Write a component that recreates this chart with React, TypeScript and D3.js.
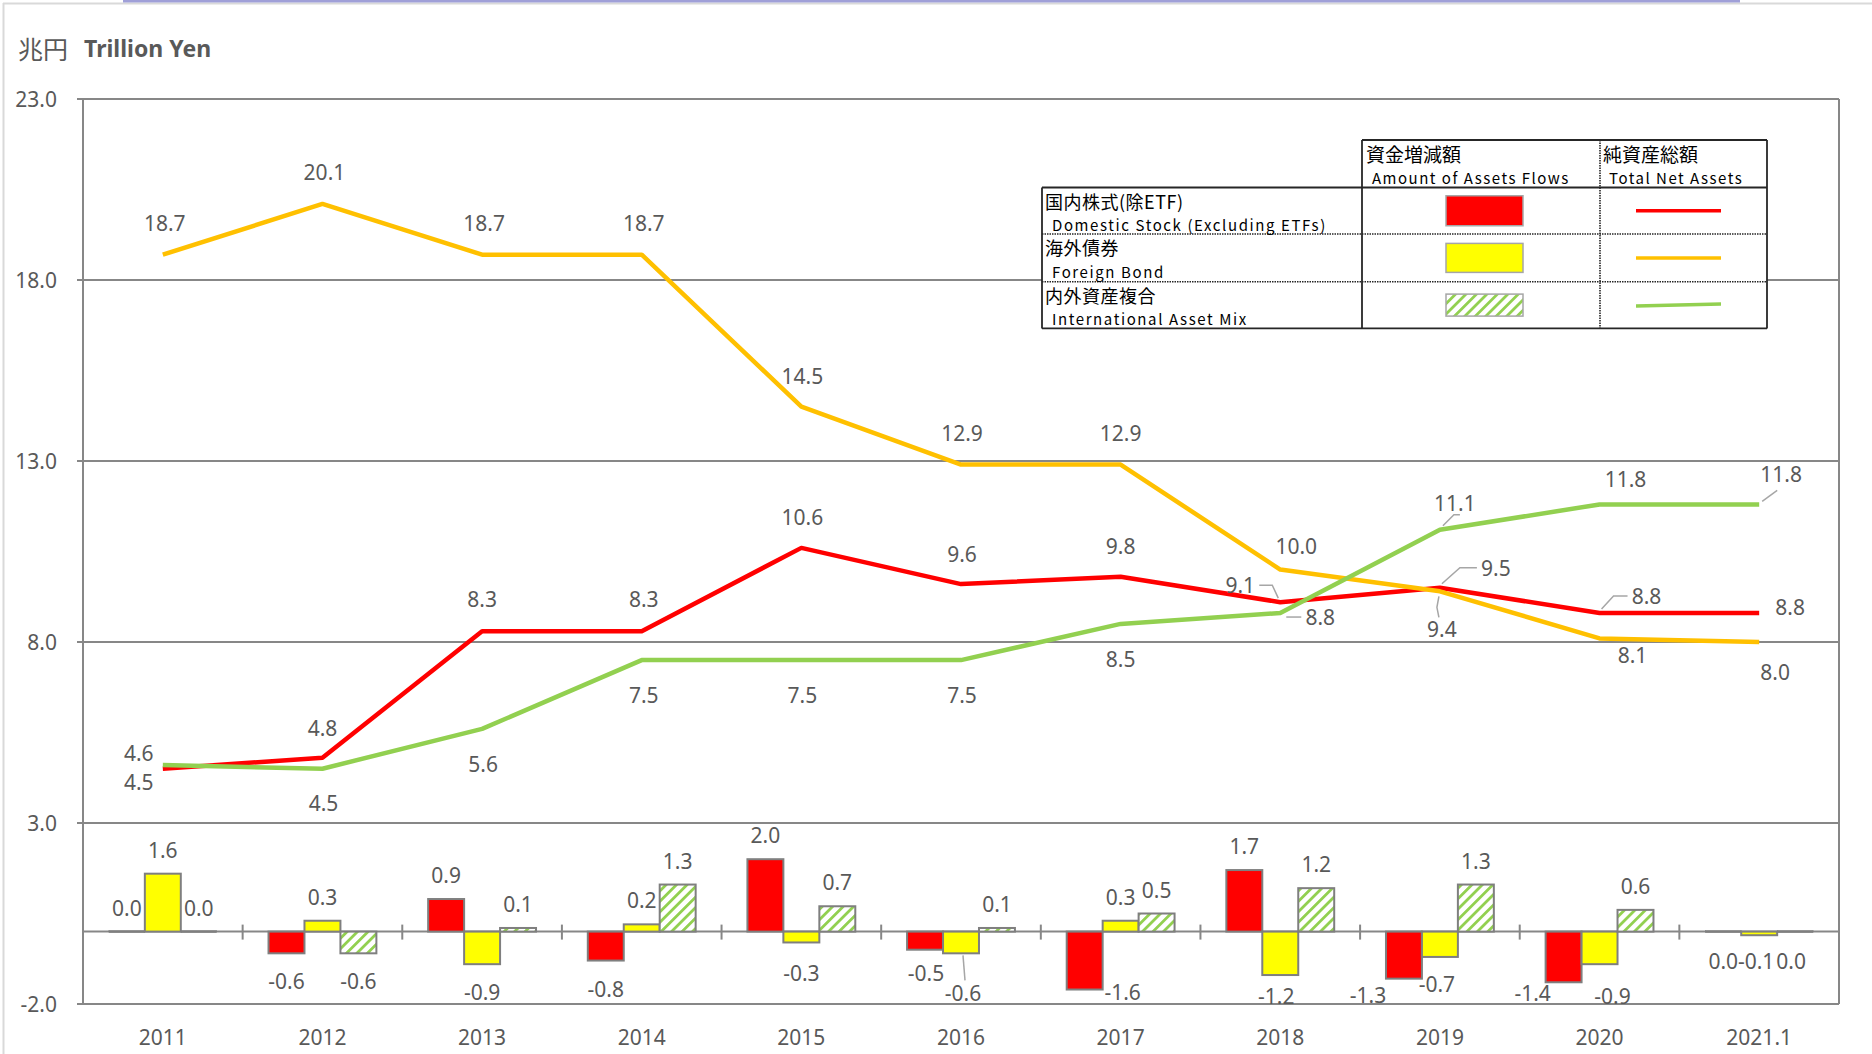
import * as d3 from "d3";
import { useEffect, useRef } from "react";

// categories (fiscal years)
const categories = ["2011", "2012", "2013", "2014", "2015", "2016", "2017", "2018", "2019", "2020", "2021.1"];

// total net assets, trillion yen
const stockNet = [4.5, 4.8, 8.3, 8.3, 10.6, 9.6, 9.8, 9.1, 9.5, 8.8, 8.8];
const bondNet = [18.7, 20.1, 18.7, 18.7, 14.5, 12.9, 12.9, 10.0, 9.4, 8.1, 8.0];
const mixNet = [4.6, 4.5, 5.6, 7.5, 7.5, 7.5, 8.5, 8.8, 11.1, 11.8, 11.8];

// amount of assets flows, trillion yen
const stockFlow = [0.0, -0.6, 0.9, -0.8, 2.0, -0.5, -1.6, 1.7, -1.3, -1.4, 0.0];
const bondFlow = [1.6, 0.3, -0.9, 0.2, -0.3, -0.6, 0.3, -1.2, -0.7, -0.9, -0.1];
const mixFlow = [0.0, -0.6, 0.1, 1.3, 0.7, 0.1, 0.5, 1.2, 1.3, 0.6, 0.0];

const yTicks = [-2, 3, 8, 13, 18, 23];

const legendRows = [
  { jp: "国内株式(除ETF)", en: "Domestic Stock (Excluding ETFs)", key: "stock" },
  { jp: "海外債券", en: "Foreign Bond", key: "bond" },
  { jp: "内外資産複合", en: "International Asset Mix", key: "mix" },
];

// label placement (pixels relative to the data point)
const netLabelOffsets: Record<string, [number, number][]> = {
  stock: [[-24, 13], [0, -30], [0, -32], [2, -32], [1, -31], [1, -30], [0, -31], [-40, -17], [56, -20], [47, -17], [31, -6]],
  bond: [[2, -32], [2, -32], [2, -32], [2, -32], [1, -31], [1, -32], [0, -32], [16, -24], [2, 38], [33, 17], [16, 30]],
  mix: [[-24, -12], [1, 34], [1, 35], [2, 35], [1, 35], [1, 35], [0, 35], [40, 4], [15, -27], [26, -25], [22, -30]],
};

const netLeaders: Record<string, [number, number][]> = {
  "stock-7": [[-21, -17], [-8, -17], [-2, -4]],
  "stock-8": [[2, -4], [20, -20], [37, -20]],
  "stock-9": [[2, -4], [14, -17], [28, -17]],
  "mix-7": [[6, 4], [21, 4]],
  "mix-8": [[3, -4], [14, -15], [20, -15]],
  "mix-10": [[3, -3], [18, -14]],
  "bond-8": [[-1, 5], [-3, 16], [-1, 26]],
};

const flowLabelNudge: Record<string, [number, number]> = {
  "stock-5": [1, 23],
  "bond-4": [0, 31],
  "bond-5": [2, 40],
  "stock-6": [38, 2],
  "bond-7": [-4, 21],
  "stock-8": [-36, 16],
  "bond-8": [-3, 27],
  "stock-9": [-31, 11],
  "bond-9": [13, 32],
  "stock-10": [0, 29],
  "bond-10": [-3, 26],
  "mix-10": [-4, 29],
};

const flowLeaders: Record<string, [number, number][]> = {
  "bond-5": [[2, 2], [4, 27]],
};

const colours: Record<string, string> = { stock: "#FF0000", bond: "#FFC000", mix: "#92D050" };
const barFills: Record<string, string> = { stock: "#FF0000", bond: "#FFFF00", mix: "url(#hatch)" };

const W = 1872;
const H = 1054;
const textGrey = "#595959";
const gridGrey = "#878787";
const numFont = "'Noto Sans', sans-serif";
const jpFont = "'Noto Sans CJK JP', sans-serif";

// plain hyphen minus like the original, one decimal
const fmt = (v: number) => v.toFixed(1);

export default function App() {
  const ref = useRef<SVGSVGElement>(null);

  useEffect(() => {
    const svg = d3.select(ref.current);
    svg.selectAll("*").remove();

    const left = 83;
    const right = 1839;

    const x = d3.scaleBand().domain(categories).range([left, right]).paddingInner(0).paddingOuter(0);
    const xSub = d3.scaleBand().domain(["stock", "bond", "mix"]).range([0, x.bandwidth()]).paddingInner(0).paddingOuter(0.72);
    const y = d3.scaleLinear().domain([-2, 23]).range([1004, 99]);
    const cx = (c: string) => (x(c) as number) + x.bandwidth() / 2;

    const defs = svg.append("defs");
    const pat = defs
      .append("pattern")
      .attr("id", "hatch")
      .attr("patternUnits", "userSpaceOnUse")
      .attr("width", 7.4)
      .attr("height", 7.4)
      .attr("patternTransform", "rotate(45)");
    pat.append("rect").attr("width", 7.4).attr("height", 7.4).attr("fill", "#fff");
    pat.append("rect").attr("width", 2.8).attr("height", 7.4).attr("fill", "#92D050");

    svg.append("rect").attr("width", W).attr("height", H).attr("fill", "#fff");

    // frame of the original page
    svg.append("line").attr("x1", 3.5).attr("x2", 3.5).attr("y1", 3).attr("y2", H).attr("stroke", "#d9d9d9").attr("stroke-width", 2);
    svg.append("line").attr("x1", 3).attr("x2", W).attr("y1", 3.5).attr("y2", 3.5).attr("stroke", "#d9d9d9").attr("stroke-width", 2);
    svg.append("line").attr("x1", 123).attr("x2", 1740).attr("y1", 1).attr("y2", 1).attr("stroke", "#a0a0d8").attr("stroke-width", 3);

    // title
    const title = svg.append("text").attr("x", 18).attr("y", 48).attr("dominant-baseline", "central").attr("fill", textGrey);
    title.append("tspan").attr("font-family", jpFont).attr("font-size", 25).text("兆円");
    title.append("tspan").attr("dx", 16).attr("font-family", numFont).attr("font-size", 23).attr("font-weight", "bold").text("Trillion Yen");

    // grid + axis
    svg
      .append("g")
      .selectAll("line")
      .data(yTicks)
      .join("line")
      .attr("x1", left - 6)
      .attr("x2", right)
      .attr("y1", (d) => y(d))
      .attr("y2", (d) => y(d))
      .attr("stroke", gridGrey)
      .attr("stroke-width", 2);

    svg
      .append("g")
      .selectAll("text")
      .data(yTicks)
      .join("text")
      .attr("x", 57)
      .attr("y", (d) => y(d))
      .attr("text-anchor", "end")
      .attr("dominant-baseline", "central")
      .attr("font-family", numFont)
      .attr("font-size", 21)
      .attr("fill", textGrey)
      .text((d) => fmt(d));

    [left, right].forEach((xx) => {
      svg.append("line").attr("x1", xx).attr("x2", xx).attr("y1", y(23)).attr("y2", y(-2)).attr("stroke", gridGrey).attr("stroke-width", 2);
    });

    // bars
    const flowSeries = [
      { key: "stock", values: stockFlow },
      { key: "bond", values: bondFlow },
      { key: "mix", values: mixFlow },
    ];

    // zero line with category ticks
    svg.append("line").attr("x1", left).attr("x2", right).attr("y1", y(0)).attr("y2", y(0)).attr("stroke", gridGrey).attr("stroke-width", 2);
    svg
      .append("g")
      .selectAll("line")
      .data(categories.slice(1))
      .join("line")
      .attr("x1", (d) => x(d) as number)
      .attr("x2", (d) => x(d) as number)
      .attr("y1", y(0) - 7)
      .attr("y2", y(0) + 8)
      .attr("stroke", gridGrey)
      .attr("stroke-width", 2);

    const barG = svg.append("g");
    flowSeries.forEach((s) => {
      barG
        .selectAll(`rect.${s.key}`)
        .data(s.values)
        .join("rect")
        .attr("class", s.key)
        .attr("x", (_d, i) => (x(categories[i]) as number) + (xSub(s.key) as number))
        .attr("width", xSub.bandwidth())
        .attr("y", (d) => Math.min(y(d), y(0)) - (d === 0 ? 1 : 0))
        .attr("height", (d) => Math.max(Math.abs(y(d) - y(0)), d === 0 ? 2 : 0))
        .attr("fill", (d) => (d === 0 ? "#7f7f7f" : barFills[s.key]))
        .attr("stroke", "#7f7f7f")
        .attr("stroke-width", (d) => (d === 0 ? 0.5 : 2));
    });

    // bar labels
    const flowLabelG = svg.append("g");
    flowSeries.forEach((s) => {
      s.values.forEach((v, i) => {
        const k = `${s.key}-${i}`;
        const bx = (x(categories[i]) as number) + (xSub(s.key) as number) + xSub.bandwidth() / 2;
        const by = y(v);
        const nudge = flowLabelNudge[k] ?? (v >= 0 ? [0, -24] : [0, 28]);
        if (flowLeaders[k]) {
          flowLabelG
            .append("path")
            .attr("d", d3.line()(flowLeaders[k].map(([dx, dy]) => [bx + dx, by + dy])))
            .attr("fill", "none")
            .attr("stroke", "#a6a6a6")
            .attr("stroke-width", 1.5);
        }
        flowLabelG
          .append("text")
          .attr("x", bx + nudge[0])
          .attr("y", by + nudge[1])
          .attr("text-anchor", "middle")
          .attr("dominant-baseline", "central")
          .attr("font-family", numFont)
          .attr("font-size", 21)
          .attr("fill", textGrey)
          .text(fmt(v));
      });
    });

    // lines
    const netSeries = [
      { key: "stock", values: stockNet },
      { key: "bond", values: bondNet },
      { key: "mix", values: mixNet },
    ];
    const line = d3
      .line<number>()
      .x((_d, i) => cx(categories[i]))
      .y((d) => y(d));

    netSeries.forEach((s) => {
      svg
        .append("path")
        .attr("d", line(s.values))
        .attr("fill", "none")
        .attr("stroke", colours[s.key])
        .attr("stroke-width", 4.5)
        .attr("stroke-linejoin", "round");
    });

    const netLabelG = svg.append("g");
    netSeries.forEach((s) => {
      s.values.forEach((v, i) => {
        const k = `${s.key}-${i}`;
        const px = cx(categories[i]);
        const py = y(v);
        const [dx, dy] = netLabelOffsets[s.key][i];
        if (netLeaders[k]) {
          netLabelG
            .append("path")
            .attr("d", d3.line()(netLeaders[k].map(([lx, ly]) => [px + lx, py + ly])))
            .attr("fill", "none")
            .attr("stroke", "#a6a6a6")
            .attr("stroke-width", 1.5);
        }
        netLabelG
          .append("text")
          .attr("x", px + dx)
          .attr("y", py + dy)
          .attr("text-anchor", "middle")
          .attr("dominant-baseline", "central")
          .attr("font-family", numFont)
          .attr("font-size", 21)
          .attr("fill", textGrey)
          .text(fmt(v));
      });
    });

    // x labels
    svg
      .append("g")
      .selectAll("text")
      .data(categories)
      .join("text")
      .attr("x", (d) => cx(d))
      .attr("y", 1037)
      .attr("text-anchor", "middle")
      .attr("dominant-baseline", "central")
      .attr("font-family", numFont)
      .attr("font-size", 21)
      .attr("fill", textGrey)
      .text((d) => d);

    // legend table
    const lx = [1042, 1362, 1600, 1767];
    const ly = [140, 187.5, 234, 281.8, 328.4];
    const lg = svg.append("g");
    lg.append("rect").attr("x", lx[1]).attr("y", ly[0]).attr("width", lx[3] - lx[1]).attr("height", ly[1] - ly[0]).attr("fill", "#fff");
    lg.append("rect").attr("x", lx[0]).attr("y", ly[1]).attr("width", lx[3] - lx[0]).attr("height", ly[4] - ly[1]).attr("fill", "#fff");

    const solid = (x1: number, y1: number, x2: number, y2: number) =>
      lg.append("line").attr("x1", x1).attr("y1", y1).attr("x2", x2).attr("y2", y2).attr("stroke", "#262626").attr("stroke-width", 1.8);
    const dotted = (x1: number, y1: number, x2: number, y2: number) =>
      lg.append("line").attr("x1", x1).attr("y1", y1).attr("x2", x2).attr("y2", y2).attr("stroke", "#262626").attr("stroke-width", 1.6).attr("stroke-dasharray", "1.5,1");

    solid(lx[1], ly[0], lx[3], ly[0]);
    solid(lx[1], ly[0], lx[1], ly[4]);
    solid(lx[3], ly[0], lx[3], ly[4]);
    solid(lx[0], ly[1], lx[3], ly[1]);
    solid(lx[0], ly[1], lx[0], ly[4]);
    solid(lx[0], ly[4], lx[3], ly[4]);
    dotted(lx[2], ly[0], lx[2], ly[4]);
    dotted(lx[0], ly[2], lx[3], ly[2]);
    dotted(lx[0], ly[3], lx[3], ly[3]);

    const legendText = (tx: number, ty: number, t: string, size: number, spacing: number) =>
      lg
        .append("text")
        .attr("x", tx)
        .attr("y", ty)
        .attr("dominant-baseline", "central")
        .attr("font-family", jpFont)
        .attr("font-size", size)
        .attr("letter-spacing", spacing)
        .attr("fill", "#000")
        .text(t);

    legendText(1366, 153, "資金増減額", 19, 0);
    legendText(1372, 177, "Amount of Assets Flows", 15, 1.5);
    legendText(1603, 153, "純資産総額", 19, 0);
    legendText(1609, 177, "Total Net Assets", 15, 1.5);

    const swatchH = [30, 29, 22];
    legendRows.forEach((r, i) => {
      const top = ly[i + 1];
      const mid = (ly[i + 1] + ly[i + 2]) / 2;
      legendText(1045, top + 13, r.jp, 18, 0.5);
      legendText(1052, top + 37, r.en, 15, 1.6);
      lg.append("rect")
        .attr("x", 1446)
        .attr("y", mid - swatchH[i] / 2)
        .attr("width", 77)
        .attr("height", swatchH[i])
        .attr("fill", barFills[r.key])
        .attr("stroke", "#a6a6a6")
        .attr("stroke-width", 1.5);
      lg.append("line")
        .attr("x1", 1636)
        .attr("x2", 1721)
        .attr("y1", mid + (r.key === "mix" ? 1 : 0))
        .attr("y2", mid - (r.key === "mix" ? 1 : 0))
        .attr("stroke", colours[r.key])
        .attr("stroke-width", 3.5);
    });
  }, []);

  return <svg ref={ref} width={W} height={H} style={{ position: "absolute", left: 0, top: 0 }} />;
}
